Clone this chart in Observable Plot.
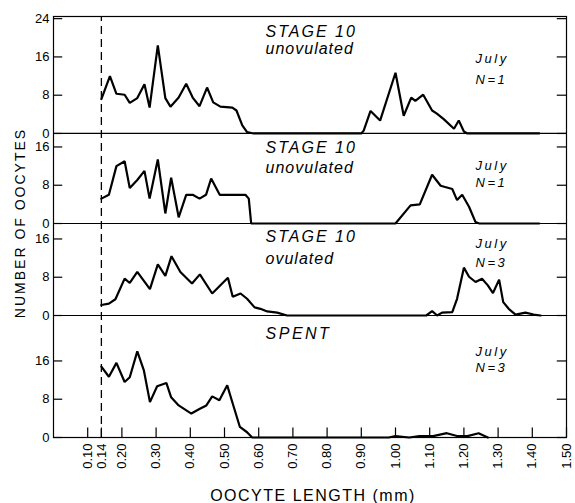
<!DOCTYPE html>
<html><head><meta charset="utf-8">
<script src="https://cdn.jsdelivr.net/npm/d3@7"></script>
<script src="https://cdn.jsdelivr.net/npm/@observablehq/plot@0.6"></script>
<style>
body{margin:0;background:#fff;}
</style></head><body><div id="chart"></div>
<script>
// ---- data ----
const panelTitles = ["STAGE 10", "STAGE 10", "STAGE 10", "SPENT"];
const panelSubtitles = ["unovulated", "unovulated", "ovulated", ""];
const panelMonths = ["July", "July", "July", "July"];
const panelNs = ["N=1", "N=1", "N=3", "N=3"];
const yTickValues = [[0, 8, 16, 24], [0, 8, 16], [0, 8, 16], [0, 8, 16]];
const xTickValues = [0.10, 0.14, 0.20, 0.30, 0.40, 0.50, 0.60, 0.70, 0.80, 0.90, 1.00, 1.10, 1.20, 1.30, 1.40, 1.50];
const cutoffLength = 0.14;

const lengths1 = [0.14,0.165,0.184,0.208,0.223,0.245,0.266,0.281,0.305,0.327,0.342,0.366,0.388,0.407,0.427,0.449,0.467,0.488,0.523,0.535,0.552,0.566,0.585,0.90,0.907,0.927,0.955,1.0,1.024,1.046,1.058,1.081,1.107,1.12,1.141,1.171,1.185,1.2,1.21,1.42];
const counts1  = [7.2,12,8.3,8.1,6.4,7.4,10.3,5.4,18.4,7.4,5.6,7.5,10.4,7.5,5.7,9.6,6.5,5.6,5.4,4.8,1.7,0.3,0,0,0.6,4.7,2.7,12.7,3.7,7.5,6.8,8.1,4.8,4.2,3.0,1.0,2.7,0.4,0,0];

const lengths2 = [0.14,0.162,0.184,0.208,0.223,0.245,0.266,0.281,0.305,0.327,0.344,0.366,0.388,0.407,0.427,0.446,0.461,0.486,0.561,0.571,0.578,1.0,1.044,1.071,1.107,1.132,1.166,1.18,1.195,1.215,1.234,1.245,1.42];
const counts2  = [5.2,6,12,13,7.4,9.1,11,5.2,13.4,2.1,9.6,1.3,6,6,5.2,6,9.4,6,6,5.2,0,0,3.8,4,10.2,7.9,7.2,4.9,6,3.5,0.3,0,0];

const lengths3 = [0.14,0.162,0.181,0.208,0.223,0.245,0.282,0.305,0.327,0.345,0.371,0.405,0.428,0.464,0.51,0.524,0.547,0.566,0.588,0.605,0.625,0.654,0.683,1.09,1.107,1.122,1.136,1.166,1.18,1.2,1.215,1.234,1.253,1.27,1.285,1.303,1.315,1.331,1.351,1.38,1.404,1.424];
const counts3  = [2.2,2.5,3.4,7.7,6.8,9.1,5.5,10.7,8.3,12.4,9.1,6.7,8.6,4.6,7.9,3.9,4.6,3.5,1.7,1.4,0.85,0.6,0,0,0.9,0,0.6,0.7,3.5,10,8.1,7,7.7,6.3,4.7,7.5,2.8,1.4,0.2,0.6,0.2,0];

const lengths4 = [0.14,0.162,0.184,0.208,0.223,0.245,0.264,0.282,0.303,0.33,0.344,0.366,0.403,0.428,0.447,0.464,0.485,0.508,0.524,0.545,0.566,0.581,0.98,1.0,1.04,1.07,1.11,1.15,1.18,1.21,1.243,1.27];
const counts4  = [14.8,12.7,15.6,11.6,12.6,18,14.1,7.4,10.7,11.4,8.4,6.7,5,6,6.7,8.6,7.8,10.9,7.1,2.2,1.1,0,0,0.3,0,0.3,0.3,0.9,0.3,0.3,0.9,0];

// ---- layout ----
const panelLengths = [lengths1, lengths2, lengths3, lengths4];
const panelCounts = [counts1, counts2, counts3, counts4];
const offsets = [63.55, 44.73, 25.5, 0];   // stacked baselines in y-units
const yTop = 88;
const titlePos = [21.3, 15.9, 16.5, 21.7];
const subPos = [17.6, 11.7, 11.9, 0];
const monthPos = [15.5, 12.0, 15.0, 18.0];
const nPos = [11.3, 8.5, 11.1, 14.6];

const rows = [];
panelLengths.forEach((xs, i) => xs.forEach((x, j) => rows.push({panel: i, x, y: offsets[i] + panelCounts[i][j]})));
const yTicks = [];
yTickValues.forEach((vals, i) => vals.forEach(v => yTicks.push({pos: offsets[i] + v, label: String(v)})));
const panels = panelTitles.map((t, i) => ({i, title: t, sub: panelSubtitles[i], month: panelMonths[i], n: panelNs[i]}));

const font = "Liberation Sans, Arial, sans-serif";
const chart = Plot.plot({
  width: 575, height: 503,
  marginLeft: 53, marginRight: 9, marginTop: 16, marginBottom: 66,
  x: {domain: [0, 1.5], axis: null},
  y: {domain: [0, yTop], axis: null},
  style: {fontFamily: font, background: "white", color: "black"},
  marks: [
    Plot.frame({stroke: "black", strokeWidth: 1.2}),
    Plot.ruleY(offsets.slice(0, 3), {stroke: "black", strokeWidth: 1.2}),
    Plot.ruleX([cutoffLength], {y1: 0, y2: yTop, stroke: "black", strokeWidth: 1.3, strokeDasharray: "8,5"}),
    // inward ticks
    Plot.ruleY(yTicks, {y: "pos", x1: 0, x2: 0.027, stroke: "black", strokeWidth: 1.2}),
    Plot.ruleY(yTicks, {y: "pos", x1: 1.5 - 0.027, x2: 1.5, stroke: "black", strokeWidth: 1.2}),
    Plot.ruleX(xTickValues, {x: d => d, y1: 0, y2: 2.0, stroke: "black", strokeWidth: 1.2}),
    // data
    Plot.line(rows, {x: "x", y: "y", z: "panel", stroke: "black", strokeWidth: 2.2, strokeLinejoin: "miter"}),
    // tick labels
    Plot.text(yTicks, {x: 0, y: "pos", text: "label", textAnchor: "end", dx: -4, fontSize: 13}),
    Plot.text(xTickValues, {x: d => d, y: 0, text: d => d3.format(".2f")(d), rotate: -90, textAnchor: "end", dy: 6, fontSize: 13}),
    // axis titles
    Plot.text(["NUMBER OF OOCYTES"], {frameAnchor: "left", textAnchor: "middle", lineAnchor: "middle", rotate: -90, dx: -33, dy: -4, fontSize: 14}),
    Plot.text(["OOCYTE LENGTH (mm)"], {frameAnchor: "bottom", textAnchor: "middle", lineAnchor: "middle", dx: 3, dy: 58, fontSize: 16}),
    // panel annotations
    Plot.text(panels, {x: 0.62, y: d => offsets[d.i] + titlePos[d.i], text: "title", textAnchor: "start", fontSize: 16, fontStyle: "italic"}),
    Plot.text(panels.filter(d => d.sub), {x: 0.62, y: d => offsets[d.i] + subPos[d.i], text: "sub", textAnchor: "start", fontSize: 16, fontStyle: "italic"}),
    Plot.text(panels, {x: 1.234, y: d => offsets[d.i] + monthPos[d.i], text: "month", textAnchor: "start", fontSize: 13, fontStyle: "italic"}),
    Plot.text(panels, {x: 1.234, y: d => offsets[d.i] + nPos[d.i], text: "n", textAnchor: "start", fontSize: 13, fontStyle: "italic"})
  ]
});
// letter-spacing to mimic the wide lettering of the original
const spacing = {"NUMBER OF OOCYTES": 2, "OOCYTE LENGTH (mm)": 1.5, "STAGE 10": 2, "SPENT": 2.5, "unovulated": 1, "ovulated": 1, "July": 2.5, "N=1": 2.5, "N=3": 2.5};
d3.select(chart).selectAll("text").each(function () {
  const s = spacing[this.textContent];
  if (s != null) this.setAttribute("letter-spacing", s);
});
document.getElementById("chart").appendChild(chart);
</script></body></html>
